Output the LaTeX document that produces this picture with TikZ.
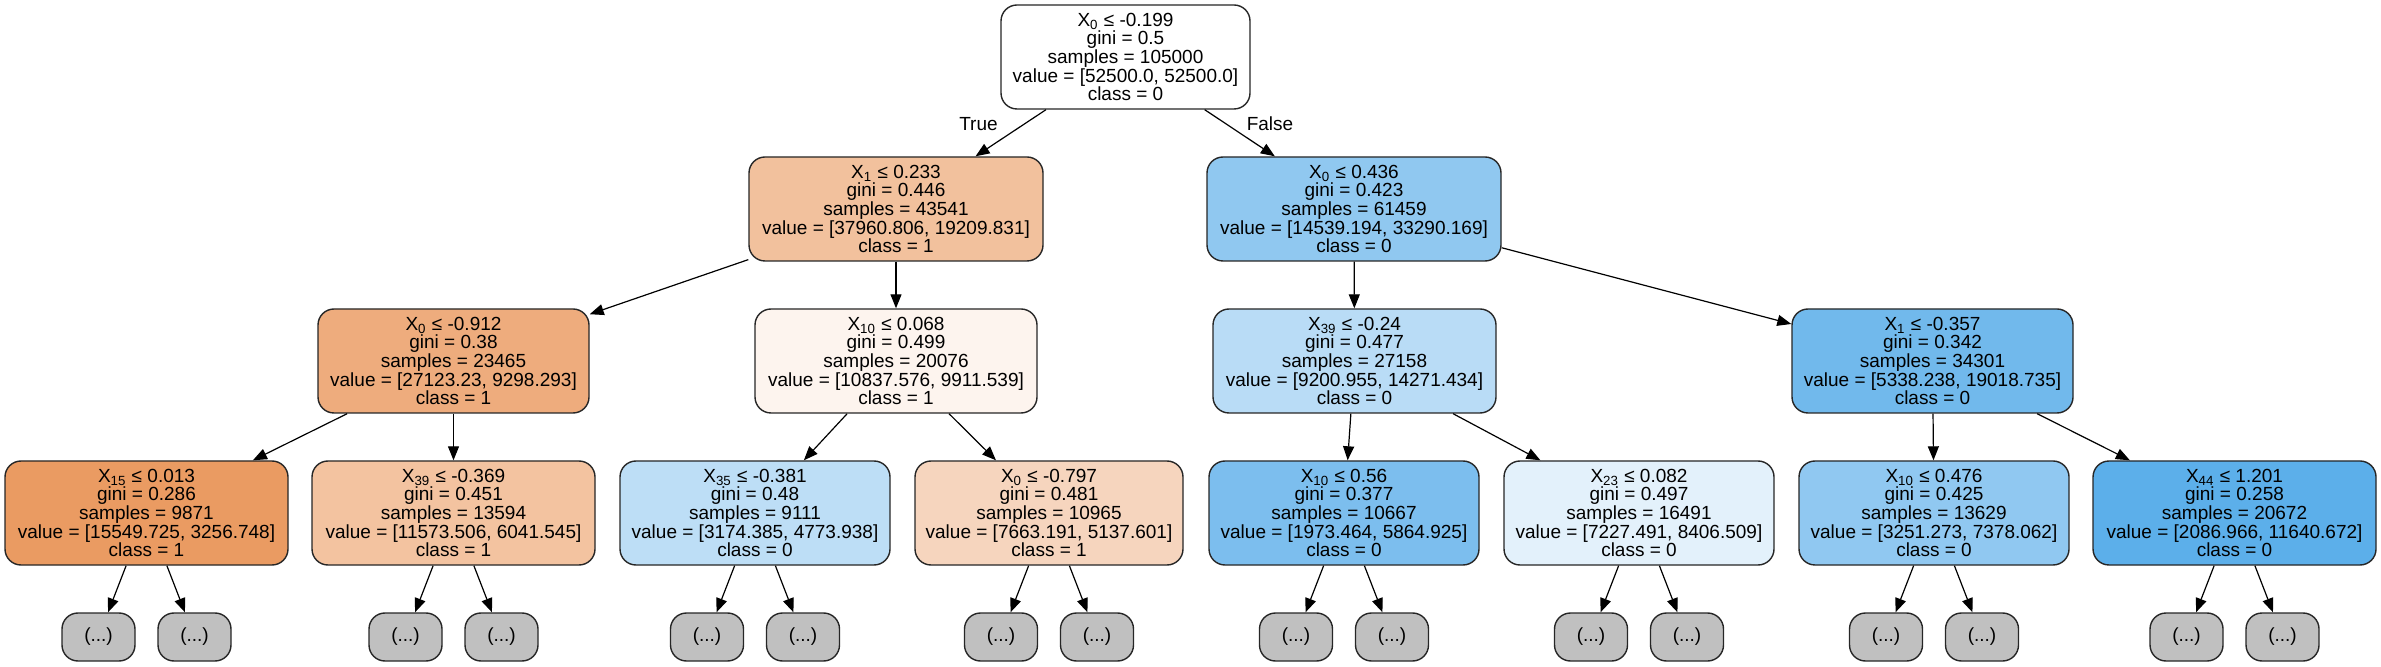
\documentclass[tikz,border=0pt]{standalone}
\usepackage{fontspec}
\setmainfont{Liberation Sans}
\usepackage{tikz}
\usetikzlibrary{positioning}
\usetikzlibrary{arrows.meta}

\definecolor{cxa}{RGB}{242,193,157}
\definecolor{cxb}{RGB}{144,200,240}
\definecolor{cxaa}{RGB}{238,172,125}
\definecolor{cxab}{RGB}{253,244,238}
\definecolor{cxba}{RGB}{185,220,246}
\definecolor{cxbb}{RGB}{113,185,236}
\definecolor{cxaaa}{RGB}{234,155,98}
\definecolor{cxaab}{RGB}{243,195,160}
\definecolor{cxaba}{RGB}{189,222,246}
\definecolor{cxabb}{RGB}{246,213,190}
\definecolor{cxbaa}{RGB}{124,190,238}
\definecolor{cxbab}{RGB}{227,241,251}
\definecolor{cxbba}{RGB}{144,200,241}
\definecolor{cxbbb}{RGB}{92,175,234}
\definecolor{cleaf}{RGB}{192,192,192}

\begin{document}
\begin{tikzpicture}[x=0.5pt, y=-0.5pt, font=\fontsize{9.5}{9.3}\selectfont]
\tikzstyle{split}=[rectangle, rounded corners=8pt, draw=black!85, line width=0.7pt, minimum height=52pt, align=center, inner sep=0pt]
\tikzstyle{leaf}=[rectangle, rounded corners=8pt, draw=black!85, line width=0.7pt, fill=cleaf, minimum width=36.5pt, minimum height=24pt, inner sep=0pt]
\tikzstyle{connect}=[-{Triangle[length=7pt,width=5.5pt]}, line width=0.6pt]
\useasboundingbox (0,0) rectangle (2381,667);

  % depth 0 and 1
  \node[split, fill=white, minimum width=124.5pt] (root) at (1125.5,57)
    {X\textsubscript{0} ≤ -0.199\\gini = 0.5\\samples = 105000\\value = [52500.0, 52500.0]\\class = 0};
  \node[split, fill=cxa, minimum width=147pt] (xa) at (896,209)
    {X\textsubscript{1} ≤ 0.233\\gini = 0.446\\samples = 43541\\value = [37960.806, 19209.831]\\class = 1};
  \node[split, fill=cxb, minimum width=147pt] (xb) at (1354,209)
    {X\textsubscript{0} ≤ 0.436\\gini = 0.423\\samples = 61459\\value = [14539.194, 33290.169]\\class = 0};

  \path (root) edge [connect] (xa);
  \path (root) edge [connect] (xb);
  \node (tlabel) at (978.5,124) {True};
  \node (flabel) at (1270,124) {False};

  % depth 2
  \node[split, fill=cxaa, minimum width=135.5pt] (xaa) at (453.5,361)
    {X\textsubscript{0} ≤ -0.912\\gini = 0.38\\samples = 23465\\value = [27123.23, 9298.293]\\class = 1};
  \node[split, fill=cxab, minimum width=141pt] (xab) at (896,361)
    {X\textsubscript{10} ≤ 0.068\\gini = 0.499\\samples = 20076\\value = [10837.576, 9911.539]\\class = 1};
  \node[split, fill=cxba, minimum width=141.5pt] (xba) at (1354.5,361)
    {X\textsubscript{39} ≤ -0.24\\gini = 0.477\\samples = 27158\\value = [9200.955, 14271.434]\\class = 0};
  \node[split, fill=cxbb, minimum width=140.5pt] (xbb) at (1932.5,361)
    {X\textsubscript{1} ≤ -0.357\\gini = 0.342\\samples = 34301\\value = [5338.238, 19018.735]\\class = 0};

  \path (xa) edge [connect] (xaa);
  \path (xa) edge [connect] (xab);
  \path (xb) edge [connect] (xba);
  \path (xb) edge [connect] (xbb);

  % depth 3
  \node[split, fill=cxaaa, minimum width=141.5pt] (xaaa) at (146.5,513)
    {X\textsubscript{15} ≤ 0.013\\gini = 0.286\\samples = 9871\\value = [15549.725, 3256.748]\\class = 1};
  \node[split, fill=cxaab, minimum width=141.5pt] (xaab) at (453.5,513)
    {X\textsubscript{39} ≤ -0.369\\gini = 0.451\\samples = 13594\\value = [11573.506, 6041.545]\\class = 1};
  \node[split, fill=cxaba, minimum width=135pt] (xaba) at (755,513)
    {X\textsubscript{35} ≤ -0.381\\gini = 0.48\\samples = 9111\\value = [3174.385, 4773.938]\\class = 0};
  \node[split, fill=cxabb, minimum width=134pt] (xabb) at (1049,513)
    {X\textsubscript{0} ≤ -0.797\\gini = 0.481\\samples = 10965\\value = [7663.191, 5137.601]\\class = 1};
  \node[split, fill=cxbaa, minimum width=135pt] (xbaa) at (1344,513)
    {X\textsubscript{10} ≤ 0.56\\gini = 0.377\\samples = 10667\\value = [1973.464, 5864.925]\\class = 0};
  \node[split, fill=cxbab, minimum width=135pt] (xbab) at (1639,513)
    {X\textsubscript{23} ≤ 0.082\\gini = 0.497\\samples = 16491\\value = [7227.491, 8406.509]\\class = 0};
  \node[split, fill=cxbba, minimum width=135pt] (xbba) at (1934,513)
    {X\textsubscript{10} ≤ 0.476\\gini = 0.425\\samples = 13629\\value = [3251.273, 7378.062]\\class = 0};
  \node[split, fill=cxbbb, minimum width=141.5pt] (xbbb) at (2234.5,513)
    {X\textsubscript{44} ≤ 1.201\\gini = 0.258\\samples = 20672\\value = [2086.966, 11640.672]\\class = 0};

  \path (xaa) edge [connect] (xaaa);
  \path (xaa) edge [connect] (xaab);
  \path (xab) edge [connect] (xaba);
  \path (xab) edge [connect] (xabb);
  \path (xba) edge [connect] (xbaa);
  \path (xba) edge [connect] (xbab);
  \path (xbb) edge [connect] (xbba);
  \path (xbb) edge [connect] (xbbb);

  % truncated subtrees
  \foreach \n in {xaaa,xaab,xaba,xabb,xbaa,xbab,xbba,xbbb}{
    \path (\n) ++(-48,124) node[leaf] (\n-l) {(...)};
    \path (\n) ++(48,124) node[leaf] (\n-r) {(...)};
    \path (\n) edge [connect] (\n-l);
    \path (\n) edge [connect] (\n-r);
  }
\end{tikzpicture}
\end{document}
